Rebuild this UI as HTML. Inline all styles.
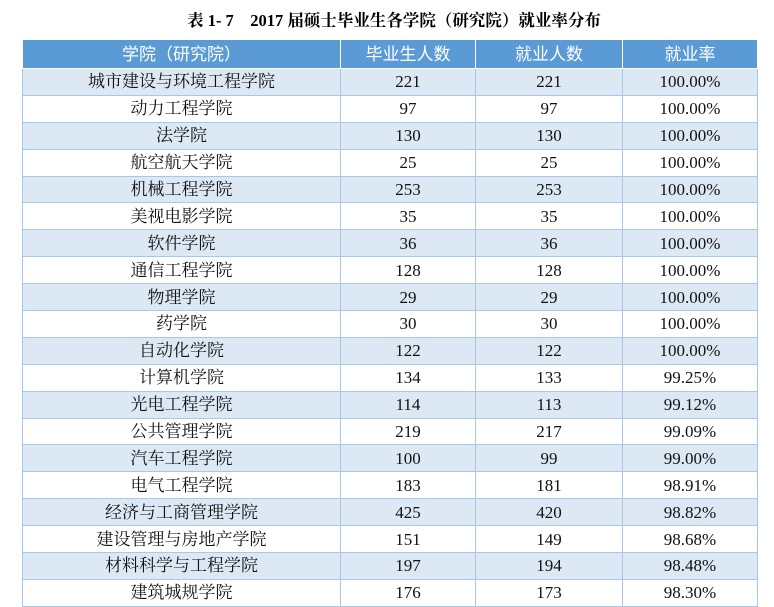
<!DOCTYPE html>
<html><head><meta charset="utf-8"><style>
body{margin:0;width:774px;height:605px;overflow:hidden;background:#fff;font-family:"Liberation Serif","Noto Serif CJK SC",serif;}
.t{position:absolute;top:10px;left:0;width:774px;text-align:center;font-weight:bold;font-size:16.5px;line-height:22px;color:#000;padding-left:14px;box-sizing:border-box}
table{position:absolute;left:22px;top:40px;border-collapse:collapse;table-layout:fixed;width:735px}
td,th{border:1px solid #a9c8e8;text-align:center;font-size:17px;height:25.9px;padding:0;line-height:25px;color:#111;font-weight:normal}
th{background:#5b9bd5;color:#fff;font-family:"Liberation Sans","Noto Sans CJK SC",sans-serif;font-size:17px;height:28px;border-color:#fff;border-top:none}
tr:nth-child(even) td{background:#dde8f5}
</style></head><body>
<div class="t">表 1- 7&nbsp;&nbsp;&nbsp; 2017 届硕士毕业生各学院（研究院）就业率分布</div>
<table>
<colgroup><col style="width:318px"><col style="width:135px"><col style="width:147px"><col style="width:135px"></colgroup>
<tr><th>学院（研究院）</th><th>毕业生人数</th><th>就业人数</th><th>就业率</th></tr>
<tr><td>城市建设与环境工程学院</td><td>221</td><td>221</td><td>100.00%</td></tr>
<tr><td>动力工程学院</td><td>97</td><td>97</td><td>100.00%</td></tr>
<tr><td>法学院</td><td>130</td><td>130</td><td>100.00%</td></tr>
<tr><td>航空航天学院</td><td>25</td><td>25</td><td>100.00%</td></tr>
<tr><td>机械工程学院</td><td>253</td><td>253</td><td>100.00%</td></tr>
<tr><td>美视电影学院</td><td>35</td><td>35</td><td>100.00%</td></tr>
<tr><td>软件学院</td><td>36</td><td>36</td><td>100.00%</td></tr>
<tr><td>通信工程学院</td><td>128</td><td>128</td><td>100.00%</td></tr>
<tr><td>物理学院</td><td>29</td><td>29</td><td>100.00%</td></tr>
<tr><td>药学院</td><td>30</td><td>30</td><td>100.00%</td></tr>
<tr><td>自动化学院</td><td>122</td><td>122</td><td>100.00%</td></tr>
<tr><td>计算机学院</td><td>134</td><td>133</td><td>99.25%</td></tr>
<tr><td>光电工程学院</td><td>114</td><td>113</td><td>99.12%</td></tr>
<tr><td>公共管理学院</td><td>219</td><td>217</td><td>99.09%</td></tr>
<tr><td>汽车工程学院</td><td>100</td><td>99</td><td>99.00%</td></tr>
<tr><td>电气工程学院</td><td>183</td><td>181</td><td>98.91%</td></tr>
<tr><td>经济与工商管理学院</td><td>425</td><td>420</td><td>98.82%</td></tr>
<tr><td>建设管理与房地产学院</td><td>151</td><td>149</td><td>98.68%</td></tr>
<tr><td>材料科学与工程学院</td><td>197</td><td>194</td><td>98.48%</td></tr>
<tr><td>建筑城规学院</td><td>176</td><td>173</td><td>98.30%</td></tr>
</table>
</body></html>
